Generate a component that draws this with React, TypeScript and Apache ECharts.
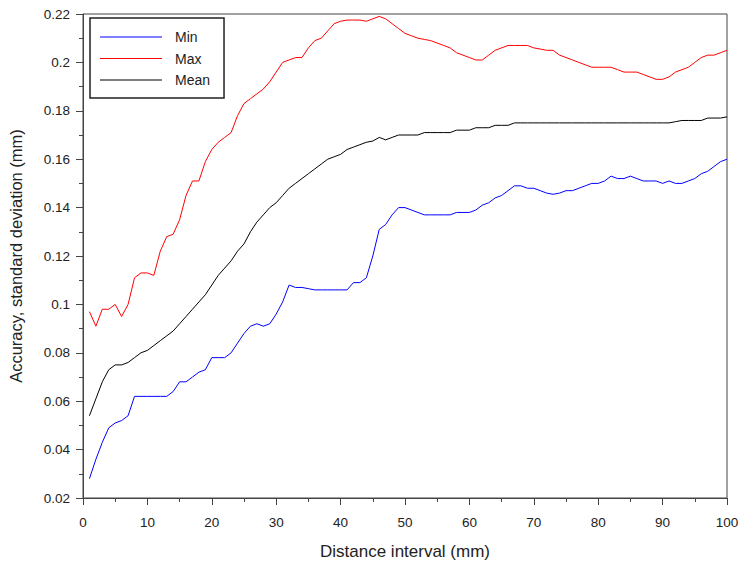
import React, { useEffect, useRef } from "react";
import * as echarts from "echarts";

const distances: number[] = Array.from({ length: 100 }, (_, i) => i + 1);

const minValues: number[] = [
  0.028, 0.036, 0.043, 0.049, 0.051, 0.052, 0.054, 0.062, 0.062, 0.062,
  0.062, 0.062, 0.062, 0.064, 0.068, 0.068, 0.070, 0.072, 0.073, 0.078,
  0.078, 0.078, 0.080, 0.084, 0.088, 0.091, 0.092, 0.091, 0.092, 0.096,
  0.101, 0.108, 0.107, 0.107, 0.1065, 0.106, 0.106, 0.106, 0.106, 0.106,
  0.106, 0.109, 0.109, 0.111, 0.120, 0.131, 0.133, 0.137, 0.140, 0.140,
  0.139, 0.138, 0.137, 0.137, 0.137, 0.137, 0.137, 0.138, 0.138, 0.138,
  0.139, 0.141, 0.142, 0.144, 0.145, 0.147, 0.149, 0.149, 0.148, 0.148,
  0.147, 0.146, 0.1455, 0.146, 0.147, 0.147, 0.148, 0.149, 0.150, 0.150,
  0.151, 0.153, 0.152, 0.152, 0.153, 0.152, 0.151, 0.151, 0.151, 0.150,
  0.151, 0.150, 0.150, 0.151, 0.152, 0.154, 0.155, 0.157, 0.159, 0.160,
];

const maxValues: number[] = [
  0.097, 0.091, 0.098, 0.098, 0.100, 0.095, 0.100, 0.111, 0.113, 0.113,
  0.112, 0.122, 0.128, 0.129, 0.135, 0.145, 0.151, 0.151, 0.159, 0.164,
  0.167, 0.169, 0.171, 0.178, 0.183, 0.185, 0.187, 0.189, 0.192, 0.196,
  0.200, 0.201, 0.202, 0.202, 0.206, 0.209, 0.210, 0.213, 0.216, 0.217,
  0.2175, 0.2175, 0.2175, 0.217, 0.218, 0.219, 0.218, 0.216, 0.214, 0.212,
  0.211, 0.210, 0.2095, 0.209, 0.208, 0.207, 0.206, 0.204, 0.203, 0.202,
  0.201, 0.201, 0.203, 0.205, 0.206, 0.207, 0.207, 0.207, 0.207, 0.206,
  0.2055, 0.205, 0.205, 0.203, 0.202, 0.201, 0.200, 0.199, 0.198, 0.198,
  0.198, 0.198, 0.197, 0.196, 0.196, 0.196, 0.195, 0.194, 0.193, 0.193,
  0.194, 0.196, 0.197, 0.198, 0.200, 0.202, 0.203, 0.203, 0.204, 0.205,
];

const meanValues: number[] = [
  0.054, 0.061, 0.068, 0.073, 0.075, 0.075, 0.076, 0.078, 0.080, 0.081,
  0.083, 0.085, 0.087, 0.089, 0.092, 0.095, 0.098, 0.101, 0.104, 0.108,
  0.112, 0.115, 0.118, 0.122, 0.125, 0.130, 0.134, 0.137, 0.140, 0.142,
  0.145, 0.148, 0.150, 0.152, 0.154, 0.156, 0.158, 0.160, 0.161, 0.162,
  0.164, 0.165, 0.166, 0.167, 0.1675, 0.169, 0.168, 0.169, 0.170, 0.170,
  0.170, 0.170, 0.171, 0.171, 0.171, 0.171, 0.171, 0.172, 0.172, 0.172,
  0.173, 0.173, 0.173, 0.174, 0.174, 0.174, 0.175, 0.175, 0.175, 0.175,
  0.175, 0.175, 0.175, 0.175, 0.175, 0.175, 0.175, 0.175, 0.175, 0.175,
  0.175, 0.175, 0.175, 0.175, 0.175, 0.175, 0.175, 0.175, 0.175, 0.175,
  0.175, 0.1755, 0.176, 0.176, 0.176, 0.176, 0.177, 0.177, 0.177, 0.1775,
];

const seriesNames = ["Min", "Max", "Mean"];
const seriesColors = ["#0000ff", "#ff0000", "#000000"];

const FONT = "Liberation Sans";

export default function App() {
  const ref = useRef<HTMLDivElement>(null);
  useEffect(() => {
    if (!ref.current) return;
    document.body.style.margin = "0";
    const chart = echarts.init(ref.current, undefined, { renderer: "svg" });
    const pair = (vals: number[]) => distances.map((d, i) => [d, vals[i]]);
    const allVals = [minValues, maxValues, meanValues];
    chart.setOption({
      animation: false,
      backgroundColor: "#ffffff",
      grid: {
        left: 83,
        top: 14,
        right: 11,
        bottom: 64,
        outerBoundsMode: "none",
        containLabel: false,
        show: true,
        borderColor: "#444",
        borderWidth: 1,
        backgroundColor: "transparent",
      },
      legend: {
        orient: "vertical",
        left: 90,
        top: 18,
        data: seriesNames,
        icon: "rect",
        itemWidth: 62,
        itemHeight: 1,
        itemGap: 7.5,
        padding: [12, 14, 11, 10],
        backgroundColor: "#ffffff",
        borderColor: "#222",
        borderWidth: 1.5,
        textStyle: {
          fontFamily: FONT,
          fontSize: 14,
          lineHeight: 14,
          color: "#222",
          padding: [0, 0, 0, 8],
        },
      },
      xAxis: {
        type: "value",
        min: 0,
        max: 100,
        interval: 10,
        name: "Distance interval (mm)",
        nameLocation: "middle",
        nameGap: 45,
        nameTextStyle: { fontFamily: FONT, fontSize: 17, color: "#222" },
        axisLine: { show: true, onZero: false, lineStyle: { color: "#444", width: 1 } },
        axisTick: { show: true, length: 7, lineStyle: { color: "#444" } },
        minorTick: { show: true, splitNumber: 2, length: 4, lineStyle: { color: "#444" } },
        splitLine: { show: false },
        axisLabel: { fontFamily: FONT, fontSize: 13.5, color: "#222", margin: 17 },
      },
      yAxis: {
        type: "value",
        min: 0.02,
        max: 0.22,
        interval: 0.02,
        name: "Accuracy, standard deviation (mm)",
        nameLocation: "middle",
        nameGap: 59,
        nameTextStyle: { fontFamily: FONT, fontSize: 16.5, color: "#222" },
        axisLine: { show: true, onZero: false, lineStyle: { color: "#444", width: 1 } },
        axisTick: { show: true, length: 7, lineStyle: { color: "#444" } },
        minorTick: { show: true, splitNumber: 2, length: 4, lineStyle: { color: "#444" } },
        splitLine: { show: false },
        axisLabel: { fontFamily: FONT, fontSize: 13.5, color: "#222", margin: 13 },
      },
      series: seriesNames.map((name, k) => ({
        name,
        type: "line",
        data: pair(allVals[k]),
        symbol: "none",
        showSymbol: false,
        lineStyle: { color: seriesColors[k], width: 1 },
        itemStyle: { color: seriesColors[k] },
      })),
    });
    return () => chart.dispose();
  }, []);
  return <div ref={ref} style={{ width: 738, height: 562 }} />;
}
